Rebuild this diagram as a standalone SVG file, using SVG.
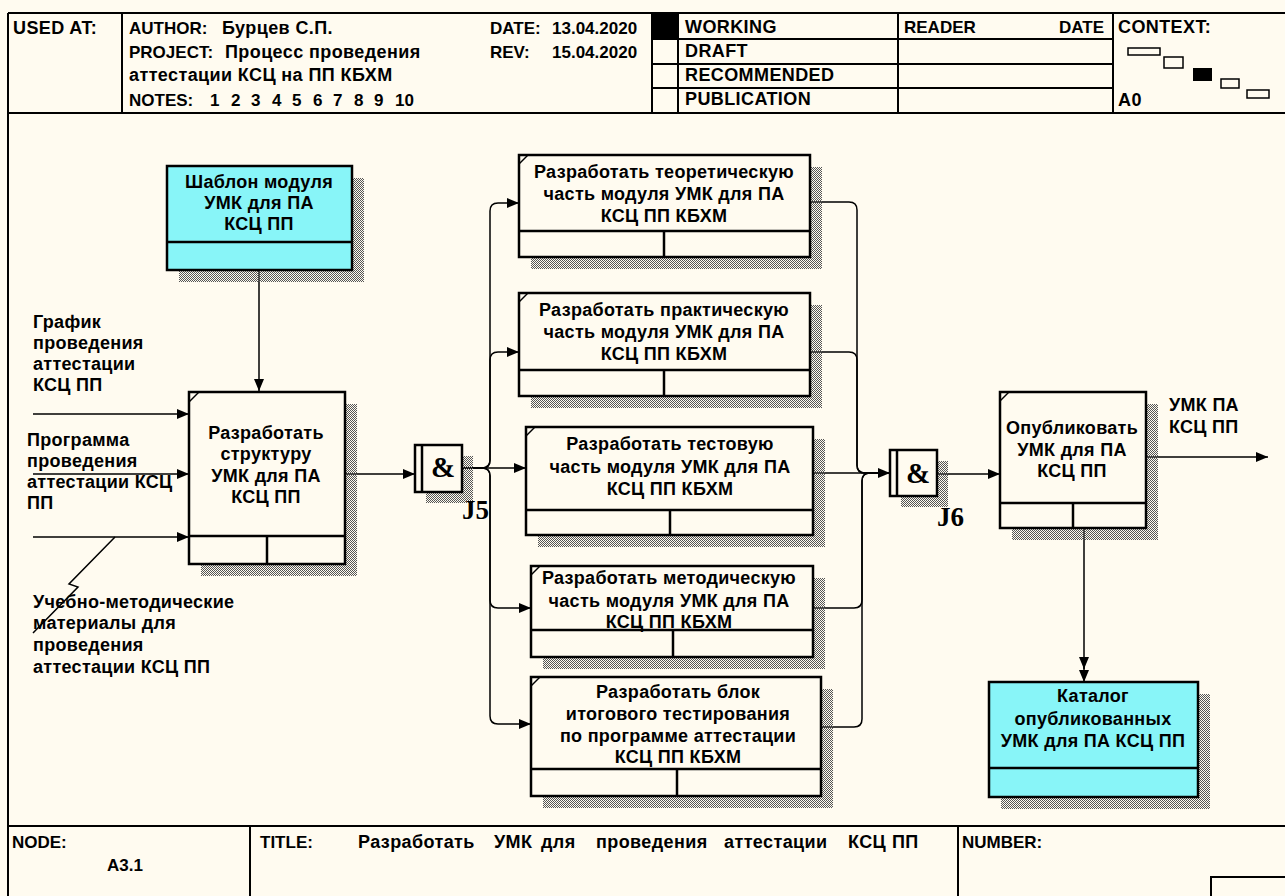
<svg xmlns="http://www.w3.org/2000/svg" width="1285" height="896" viewBox="0 0 1285 896">
  <defs>
    <pattern id="hatch" width="2" height="2" patternUnits="userSpaceOnUse">
      <rect x="0" y="0" width="1" height="1" fill="#555"/>
      <rect x="1" y="1" width="1" height="1" fill="#555"/>
    </pattern>
    <marker id="ah" viewBox="0 0 12 10" refX="12" refY="5" markerWidth="12" markerHeight="10" markerUnits="userSpaceOnUse" orient="auto">
      <path d="M0,0 L12,5 L0,10 z" fill="#000"/>
    </marker>
    <style>
      .frame { stroke: #000; stroke-width: 2; fill: none; }
      .hd { font-family: "Liberation Sans", Arial, sans-serif; font-weight: bold; font-size: 18px; letter-spacing: 0.4px; fill: #000; }
      .hl { font-family: "Liberation Sans", Arial, sans-serif; font-weight: bold; font-size: 17px; fill: #000; }
      .box { stroke: #000; stroke-width: 2.5; fill: #FFFBF0; }
      .data { stroke: #000; stroke-width: 2.5; fill: #88F5F8; }
      .sep { stroke: #000; stroke-width: 2.5; }
      .tick { stroke: #000; stroke-width: 1.5; }
      .shadow { fill: url(#hatch); }
      .lbl { font-family: "Liberation Sans", Arial, sans-serif; font-weight: bold; font-size: 18px; fill: #000; letter-spacing: 0.3px; }
      .c { text-anchor: middle; }
      .arr { stroke: #000; stroke-width: 1.5; fill: none; }
      .arrh { stroke: #000; stroke-width: 1.5; fill: none; marker-end: url(#ah); }
      .jn { stroke: #000; stroke-width: 2.5; fill: #FFFBF0; }
      .amp { font-family: "Liberation Serif", "Times New Roman", serif; font-weight: bold; font-size: 29px; fill: #000; text-anchor: middle; }
      .jl { font-family: "Liberation Serif", "Times New Roman", serif; font-weight: bold; font-size: 27px; fill: #000; }
    </style>
  </defs>

  <rect x="0" y="0" width="1285" height="896" fill="#FFFBF0"/>

  <!-- header frame -->
  <g id="header">
    <line class="frame" x1="8" y1="13" x2="1285" y2="13"/>
    <line class="frame" x1="8" y1="113" x2="1285" y2="113"/>
    <line class="frame" x1="8" y1="13" x2="8" y2="896"/>
    <line class="frame" x1="122" y1="13" x2="122" y2="113"/>
    <line class="frame" x1="652" y1="13" x2="652" y2="113"/>
    <line class="frame" x1="678" y1="13" x2="678" y2="113"/>
    <line class="frame" x1="898" y1="13" x2="898" y2="113"/>
    <line class="frame" x1="1113" y1="13" x2="1113" y2="113"/>
    <line class="frame" x1="652" y1="39" x2="1113" y2="39"/>
    <line class="frame" x1="652" y1="64" x2="1113" y2="64"/>
    <line class="frame" x1="652" y1="88" x2="1113" y2="88"/>
    <rect x="652" y="13" width="26" height="26" fill="#000"/>

    <text class="hd" x="13" y="34">USED AT:</text>
    <text class="hl" x="129" y="34">AUTHOR:</text>
    <text class="hd" x="222" y="34">Бурцев С.П.</text>
    <text class="hl" x="129" y="58">PROJECT:</text>
    <text class="hd" x="225" y="58">Процесс проведения</text>
    <text class="hd" x="129" y="81">аттестации КСЦ на ПП КБХМ</text>
    <text class="hl" x="129" y="106">NOTES:</text>
    <text class="hl" x="210" y="106">1</text>
    <text class="hl" x="231" y="106">2</text>
    <text class="hl" x="251" y="106">3</text>
    <text class="hl" x="272" y="106">4</text>
    <text class="hl" x="292" y="106">5</text>
    <text class="hl" x="313" y="106">6</text>
    <text class="hl" x="333" y="106">7</text>
    <text class="hl" x="354" y="106">8</text>
    <text class="hl" x="374" y="106">9</text>
    <text class="hl" x="395" y="106">10</text>
    <text class="hl" x="490" y="34">DATE:</text>
    <text class="hl" x="552" y="34">13.04.2020</text>
    <text class="hl" x="490" y="58">REV:</text>
    <text class="hl" x="552" y="58">15.04.2020</text>

    <text class="hd" x="685" y="33">WORKING</text>
    <text class="hd" x="685" y="57">DRAFT</text>
    <text class="hd" x="685" y="81">RECOMMENDED</text>
    <text class="hd" x="685" y="105">PUBLICATION</text>
    <text class="hl" x="904" y="33">READER</text>
    <text class="hl" x="1104" y="33" text-anchor="end">DATE</text>
    <text class="hd" x="1118" y="33">CONTEXT:</text>
    <text class="hd" x="1118" y="106">A0</text>

    <rect x="1128" y="48" width="32" height="7" fill="none" stroke="#000" stroke-width="1.5"/>
    <rect x="1164" y="57" width="19" height="11" fill="none" stroke="#000" stroke-width="1.5"/>
    <rect x="1193" y="68" width="19" height="13" fill="#000"/>
    <rect x="1221" y="79" width="18" height="9" fill="none" stroke="#000" stroke-width="1.5"/>
    <rect x="1247" y="90" width="22" height="8" fill="none" stroke="#000" stroke-width="1.5"/>
  </g>

  <!-- footer frame -->
  <g id="footer">
    <line class="frame" x1="8" y1="826" x2="1285" y2="826"/>
    <line class="frame" x1="250" y1="826" x2="250" y2="896"/>
    <line class="frame" x1="958" y1="826" x2="958" y2="896"/>
    <polyline class="frame" points="1211,896 1211,877 1285,877"/>
    <text class="hl" x="12" y="848">NODE:</text>
    <text class="hl" x="107" y="871">A3.1</text>
    <text class="hl" x="260" y="848">TITLE:</text>
    <text class="hd" y="848"><tspan x="358">Разработать</tspan><tspan x="494">УМК</tspan><tspan x="541">для</tspan><tspan x="596">проведения</tspan><tspan x="724">аттестации</tspan><tspan x="848">КСЦ</tspan><tspan x="892">ПП</tspan></text>
    <text class="hl" x="962" y="848">NUMBER:</text>
  </g>

  <!-- connectors -->
  <g id="connectors">
    <path class="arrh" d="M259,270 V391"/>
    <path class="arrh" d="M33,414 H189"/>
    <path class="arrh" d="M33,474 H189"/>
    <path class="arrh" d="M33,537 H189"/>
    <path class="arr" d="M115,537 L69,584 L78,587 L33,633" stroke-width="1"/>
    <path class="arrh" d="M345,474 H415"/>

    <path class="arrh" d="M462,468 H482 Q490,468 490,460 V211 Q490,203 498,203 H519"/>
    <path class="arrh" d="M462,468 H482 Q490,468 490,460 V360 Q490,352 498,352 H519"/>
    <path class="arrh" d="M462,468 H526"/>
    <path class="arrh" d="M462,468 H482 Q490,468 490,476 V600 Q490,608 498,608 H531"/>
    <path class="arrh" d="M462,468 H482 Q490,468 490,476 V716 Q490,724 498,724 H531"/>

    <path class="arr" d="M810,202 H849 Q857,202 857,210 V465 Q857,473 865,473 H890"/>
    <path class="arr" d="M810,352 H849 Q857,352 857,360 V465 Q857,473 865,473 H890"/>
    <path class="arrh" d="M813,473 H890"/>
    <path class="arr" d="M813,608 H854 Q862,608 862,600 V481 Q862,473 870,473 H890"/>
    <path class="arr" d="M820,727 H854 Q862,727 862,719 V481 Q862,473 870,473 H890"/>

    <path class="arrh" d="M937,474 H1000"/>
    <path class="arrh" d="M1146,457 H1268"/>
    <path class="arrh" d="M1084,528 V669"/>
    <path class="arrh" d="M1084,660 V682"/>
  </g>

  <!-- arrow labels -->
  <g id="labels">
    <text class="lbl" x="33" y="328">График</text>
    <text class="lbl" x="33" y="349">проведения</text>
    <text class="lbl" x="33" y="370">аттестации</text>
    <text class="lbl" x="33" y="391">КСЦ ПП</text>
    <text class="lbl" x="27" y="446">Программа</text>
    <text class="lbl" x="27" y="467">проведения</text>
    <text class="lbl" x="27" y="488">аттестации КСЦ</text>
    <text class="lbl" x="27" y="509">ПП</text>
    <text class="lbl" x="33" y="608">Учебно-методические</text>
    <text class="lbl" x="33" y="629">материалы для</text>
    <text class="lbl" x="33" y="651">проведения</text>
    <text class="lbl" x="33" y="673">аттестации КСЦ ПП</text>
    <text class="lbl" x="1169" y="411">УМК ПА</text>
    <text class="lbl" x="1169" y="433">КСЦ ПП</text>
  </g>

  <g id="template">
    <rect class="shadow" x="179" y="178" width="185" height="104"/>
    <rect class="data" x="167" y="166" width="185" height="104"/>
    <line class="sep" x1="167" y1="242" x2="352" y2="242"/>
    <text class="lbl c" x="259" y="188">Шаблон модуля</text>
    <text class="lbl c" x="259" y="209">УМК для ПА</text>
    <text class="lbl c" x="259" y="230">КСЦ ПП</text>
  </g>

  <g id="structure">
    <rect class="shadow" x="201" y="404" width="156" height="172"/>
    <rect class="box" x="189" y="392" width="156" height="172"/>
    <line class="sep" x1="189" y1="536" x2="345" y2="536"/>
    <line class="sep" x1="267" y1="536" x2="267" y2="564"/>
    <line class="tick" x1="189" y1="402" x2="199" y2="392"/>
    <text class="lbl c" x="266" y="439">Разработать</text>
    <text class="lbl c" x="266" y="460">структуру</text>
    <text class="lbl c" x="266" y="482">УМК для ПА</text>
    <text class="lbl c" x="266" y="503">КСЦ ПП</text>
  </g>

  <g id="j5">
    <rect class="shadow" x="426" y="456" width="47" height="47"/>
    <rect class="jn" x="415" y="445" width="47" height="47"/>
    <line class="sep" x1="422" y1="445" x2="422" y2="492"/>
    <text class="amp" x="443" y="477">&amp;</text>
    <text class="jl" x="462" y="519">J5</text>
  </g>

  <g id="theory">
    <rect class="shadow" x="531" y="167" width="291" height="102"/>
    <rect class="box" x="519" y="155" width="291" height="102"/>
    <line class="sep" x1="519" y1="231" x2="810" y2="231"/>
    <line class="sep" x1="664" y1="231" x2="664" y2="257"/>
    <line class="tick" x1="519" y1="164" x2="528" y2="155"/>
    <text class="lbl c" x="664" y="178">Разработать теоретическую</text>
    <text class="lbl c" x="664" y="200">часть модуля УМК для ПА</text>
    <text class="lbl c" x="664" y="222">КСЦ ПП КБХМ</text>
  </g>

  <g id="practice">
    <rect class="shadow" x="531" y="305" width="291" height="103"/>
    <rect class="box" x="519" y="293" width="291" height="103"/>
    <line class="sep" x1="519" y1="370" x2="810" y2="370"/>
    <line class="sep" x1="664" y1="370" x2="664" y2="396"/>
    <line class="tick" x1="519" y1="302" x2="528" y2="293"/>
    <text class="lbl c" x="664" y="316">Разработать практическую</text>
    <text class="lbl c" x="664" y="338">часть модуля УМК для ПА</text>
    <text class="lbl c" x="664" y="360">КСЦ ПП КБХМ</text>
  </g>

  <g id="tests">
    <rect class="shadow" x="538" y="439" width="287" height="108"/>
    <rect class="box" x="526" y="427" width="287" height="108"/>
    <line class="sep" x1="526" y1="510" x2="813" y2="510"/>
    <line class="sep" x1="670" y1="510" x2="670" y2="535"/>
    <line class="tick" x1="526" y1="436" x2="535" y2="427"/>
    <text class="lbl c" x="670" y="450">Разработать тестовую</text>
    <text class="lbl c" x="670" y="473">часть модуля УМК для ПА</text>
    <text class="lbl c" x="670" y="495">КСЦ ПП КБХМ</text>
  </g>

  <g id="method">
    <rect class="shadow" x="543" y="578" width="282" height="91"/>
    <rect class="box" x="531" y="566" width="282" height="91"/>
    <line class="sep" x1="531" y1="630" x2="813" y2="630"/>
    <line class="sep" x1="673" y1="630" x2="673" y2="657"/>
    <line class="tick" x1="531" y1="575" x2="540" y2="566"/>
    <text class="lbl c" x="669" y="584">Разработать методическую</text>
    <text class="lbl c" x="669" y="607">часть модуля УМК для ПА</text>
    <text class="lbl c" x="669" y="628">КСЦ ПП КБХМ</text>
  </g>

  <g id="finaltest">
    <rect class="shadow" x="543" y="689" width="290" height="119"/>
    <rect class="box" x="531" y="677" width="290" height="119"/>
    <line class="sep" x1="531" y1="769" x2="821" y2="769"/>
    <line class="sep" x1="677" y1="769" x2="677" y2="796"/>
    <line class="tick" x1="531" y1="686" x2="540" y2="677"/>
    <text class="lbl c" x="678" y="698">Разработать блок</text>
    <text class="lbl c" x="678" y="720">итогового тестирования</text>
    <text class="lbl c" x="678" y="742">по программе аттестации</text>
    <text class="lbl c" x="678" y="763">КСЦ ПП КБХМ</text>
  </g>

  <g id="j6">
    <rect class="shadow" x="901" y="461" width="47" height="46"/>
    <rect class="jn" x="890" y="450" width="47" height="46"/>
    <line class="sep" x1="897" y1="450" x2="897" y2="496"/>
    <text class="amp" x="918" y="483">&amp;</text>
    <text class="jl" x="937" y="526">J6</text>
  </g>

  <g id="publish">
    <rect class="shadow" x="1012" y="404" width="146" height="136"/>
    <rect class="box" x="1000" y="392" width="146" height="136"/>
    <line class="sep" x1="1000" y1="503" x2="1146" y2="503"/>
    <line class="sep" x1="1073" y1="503" x2="1073" y2="528"/>
    <line class="tick" x1="1000" y1="401" x2="1009" y2="392"/>
    <text class="lbl c" x="1072" y="434">Опубликовать</text>
    <text class="lbl c" x="1072" y="456">УМК для ПА</text>
    <text class="lbl c" x="1072" y="477">КСЦ ПП</text>
  </g>

  <g id="catalog">
    <rect class="shadow" x="1001" y="694" width="209" height="115"/>
    <rect class="data" x="989" y="682" width="209" height="115"/>
    <line class="sep" x1="989" y1="768" x2="1198" y2="768"/>
    <text class="lbl c" x="1093" y="702">Каталог</text>
    <text class="lbl c" x="1093" y="725">опубликованных</text>
    <text class="lbl c" x="1093" y="747">УМК для ПА КСЦ ПП</text>
  </g>
</svg>
